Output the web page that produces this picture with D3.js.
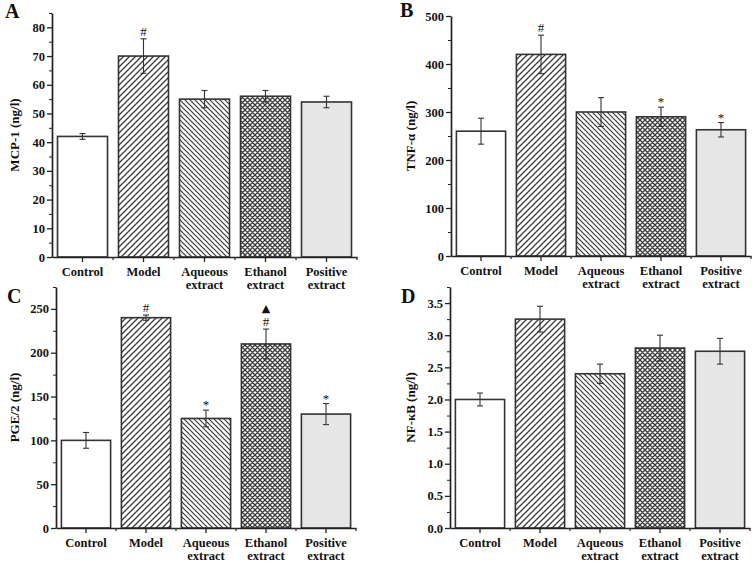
<!DOCTYPE html>
<html>
<head>
<meta charset="utf-8">
<script src="https://cdn.jsdelivr.net/npm/d3@7"></script>
<style>
  html, body { margin: 0; padding: 0; background: #fff; }
  svg { display: block; }
  text { font-family: "Liberation Serif", "Times New Roman", serif; fill: #111; }
</style>
</head>
<body>
<script>
// ---------- DATA ----------
const categories = ["Control", "Model", "Aqueous extract", "Ethanol extract", "Positive extract"];

const mcpValues = [42, 70, 55, 56, 54];
const mcpErrors = [1, 6, 3, 2, 2];
const mcpMarks  = [[], ["#"], [], [], []];
const mcpTicks  = [0, 10, 20, 30, 40, 50, 60, 70, 80];

const tnfValues = [260, 420, 300, 290, 263];
const tnfErrors = [27, 40, 30, 20, 15];
const tnfMarks  = [[], ["#"], [], ["*"], ["*"]];
const tnfTicks  = [0, 100, 200, 300, 400, 500];

const pgeValues = [100, 240, 125, 210, 130];
const pgeErrors = [9, 3, 9.5, 17, 12];
const pgeMarks  = [[], ["#"], ["*"], ["#", "▲"], ["*"]];
const pgeTicks  = [0, 50, 100, 150, 200, 250];

const nfkbValues = [2.0, 3.25, 2.4, 2.8, 2.75];
const nfkbErrors = [0.1, 0.2, 0.15, 0.2, 0.2];
const nfkbMarks  = [[], [], [], [], []];
const nfkbTicks  = [0, 0.5, 1.0, 1.5, 2.0, 2.5, 3.0, 3.5];

const panelLetters = ["A", "B", "C", "D"];
const yTitles = ["MCP-1 (ng/l)", "TNF-α (ng/l)", "PGE/2 (ng/l)", "NF-κB (ng/l)"];

// ---------- DRAWING ----------
const svg = d3.select("body").append("svg").attr("width", 756).attr("height", 563);
const defs = svg.append("defs");
const ink = "#333";

function pattern(id, size, d, sw) {
  const p = defs.append("pattern").attr("id", id)
    .attr("patternUnits", "userSpaceOnUse").attr("width", size).attr("height", size);
  p.append("rect").attr("width", size).attr("height", size).attr("fill", "#fff");
  p.append("path").attr("d", d).attr("stroke", "#3a3a3a").attr("stroke-width", sw).attr("fill", "none");
}
pattern("fwd", 6, "M0,6 L6,0 M-1.5,1.5 L1.5,-1.5 M4.5,7.5 L7.5,4.5", 1.3);
pattern("back", 5, "M0,0 L5,5 M-1.25,3.75 L1.25,6.25 M3.75,-1.25 L6.25,1.25", 1.2);
pattern("cross", 5, "M0,0 L5,5 M-1.25,3.75 L1.25,6.25 M3.75,-1.25 L6.25,1.25 M0,5 L5,0 M-1.25,1.25 L1.25,-1.25 M3.75,6.25 L6.25,3.75", 1.3);
const fills = ["#ffffff", "url(#fwd)", "url(#back)", "url(#cross)", "#e6e6e6"];

const panels = [
  { values: mcpValues, errors: mcpErrors, marks: mcpMarks, ticks: mcpTicks, ymax: 85, fmt: d3.format("d"),
    x0: 52, x1: 357, yb: 257, yt: 13, letterX: 5, letterY: 18, titleX: 14 },
  { values: tnfValues, errors: tnfErrors, marks: tnfMarks, ticks: tnfTicks, ymax: 500, fmt: d3.format("d"),
    x0: 451, x1: 751, yb: 256, yt: 16, letterX: 400, letterY: 17, titleX: 410 },
  { values: pgeValues, errors: pgeErrors, marks: pgeMarks, ticks: pgeTicks, ymax: 275, fmt: d3.format("d"),
    x0: 56, x1: 356, yb: 528, yt: 287, letterX: 7, letterY: 303, titleX: 14 },
  { values: nfkbValues, errors: nfkbErrors, marks: nfkbMarks, ticks: nfkbTicks, ymax: 3.75, fmt: d3.format(".1f"),
    x0: 450, x1: 750, yb: 528, yt: 287, letterX: 401, letterY: 303, titleX: 410 }
];

panels.forEach((p, pi) => {
  const g = svg.append("g");
  const x = d3.scaleBand().domain(categories).range([p.x0, p.x1]).paddingInner(0.18).paddingOuter(0.09);
  const y = d3.scaleLinear().domain([0, p.ymax]).range([p.yb, p.yt]);

  // bars
  g.selectAll("rect.bar").data(p.values).join("rect").attr("class", "bar")
    .attr("x", (d, i) => x(categories[i]))
    .attr("y", d => y(d))
    .attr("width", x.bandwidth())
    .attr("height", d => y(0) - y(d))
    .attr("fill", (d, i) => fills[i])
    .attr("stroke", ink).attr("stroke-width", 1.6);

  // error bars
  const eb = g.selectAll("g.eb").data(p.values).join("g").attr("class", "eb");
  eb.each(function (d, i) {
    const cx = x(categories[i]) + x.bandwidth() / 2;
    const e = p.errors[i];
    const s = d3.select(this);
    s.append("line").attr("x1", cx).attr("x2", cx).attr("y1", y(d + e)).attr("y2", y(d - e))
      .attr("stroke", ink).attr("stroke-width", 1.1);
    [d + e, d - e].forEach(v => {
      s.append("line").attr("x1", cx - 3).attr("x2", cx + 3).attr("y1", y(v)).attr("y2", y(v))
        .attr("stroke", ink).attr("stroke-width", 1.1);
    });
    // significance marks
    p.marks[i].forEach((m) => {
      const top = y(d + e);
      let yy;
      if (m === "#") yy = top - 3;
      else if (m === "*") yy = top - 1;
      else yy = top - 17;
      s.append("text").attr("x", cx).attr("y", yy).attr("text-anchor", "middle")
        .attr("fill", "#111").style("fill", "#111")
        .style("font-size", m === "▲" ? "11px" : "13px")
        .style("font-family", m === "▲" ? "DejaVu Sans, sans-serif" : "Liberation Serif, serif")
        .text(m);
    });
  });

  // y axis
  const yAxis = g.append("g").attr("transform", `translate(${p.x0},0)`)
    .call(d3.axisLeft(y).tickValues(p.ticks).tickFormat(p.fmt).tickSize(5).tickSizeOuter(0).tickPadding(2));
  const step = p.ticks[1] - p.ticks[0];
  const minor = p.ticks.map(t => t + step / 2).filter(t => t <= p.ymax);
  g.append("g").attr("transform", `translate(${p.x0},0)`)
    .call(d3.axisLeft(y).tickValues(minor).tickFormat("").tickSize(3).tickSizeOuter(0))
    .call(a => a.select(".domain").remove());

  // x axis
  const xAxis = g.append("g").attr("transform", `translate(0,${p.yb})`)
    .call(d3.axisBottom(x).tickFormat("").tickSize(5).tickSizeOuter(0));
  const bounds = d3.range(1, categories.length + 1).map(i => p.x0 + i * x.step());
  g.append("g").selectAll("line").data(bounds).join("line")
    .attr("x1", d => d).attr("x2", d => d).attr("y1", p.yb).attr("y2", p.yb + 3)
    .attr("stroke", ink).attr("stroke-width", 1.3);

  [yAxis, xAxis].forEach(a => {
    a.selectAll(".domain").attr("stroke", "#222").attr("stroke-width", 1.7);
    a.selectAll(".tick line").attr("stroke", "#222").attr("stroke-width", 1.3);
    a.selectAll(".tick text").style("font-size", "12.5px").style("font-weight", "bold")
      .style("font-family", "Liberation Serif, serif").attr("fill", "#111");
  });
  g.selectAll("g .tick line").attr("stroke", "#222");

  // x labels (two lines)
  categories.forEach(c => {
    const words = c.split(" ");
    const t = g.append("text").attr("text-anchor", "middle")
      .attr("x", x(c) + x.bandwidth() / 2).attr("y", p.yb + 19)
      .style("font-size", "12.5px").style("font-weight", "bold");
    words.forEach((w, wi) => {
      t.append("tspan").attr("x", x(c) + x.bandwidth() / 2).attr("dy", wi === 0 ? 0 : 12.5).text(w);
    });
  });

  // y title
  g.append("text")
    .attr("transform", `translate(${p.titleX},${(p.yb + p.yt) / 2}) rotate(-90)`)
    .attr("text-anchor", "middle").attr("dominant-baseline", "central")
    .style("font-size", "13px").style("font-weight", "bold")
    .text(yTitles[pi]);

  // panel letter
  g.append("text").attr("x", p.letterX).attr("y", p.letterY)
    .style("font-size", "20px").style("font-weight", "bold")
    .text(panelLetters[pi]);
});
</script>
</body>
</html>
